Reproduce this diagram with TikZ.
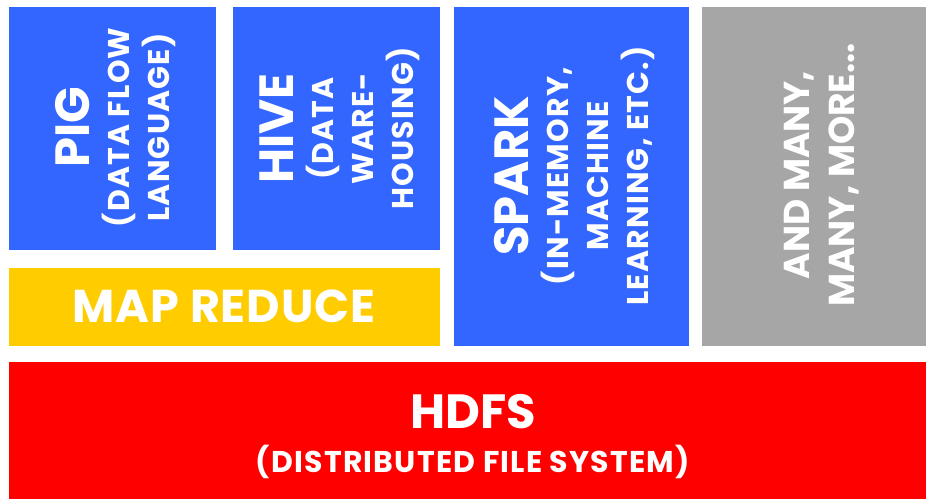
\documentclass[tikz,border=0pt]{standalone}
\usepackage{fontspec}
\setmainfont{Poppins}
\newfontfamily\spaced{Poppins}[LetterSpace=4]
\newfontfamily\mildspaced{Poppins}[LetterSpace=2]
\definecolor{hblue}{HTML}{3366FF}
\definecolor{hyellow}{HTML}{FFCC00}
\definecolor{hred}{HTML}{FF0000}
\definecolor{hgray}{HTML}{A6A6A6}
\newcommand{\headword}[1]{{\normalfont\bfseries\fontsize{48}{48}\selectfont #1}}
\begin{document}
\begin{tikzpicture}[x=1pt,y=-1pt,
  layer/.style={draw=none, inner sep=0pt, outer sep=0pt},
  label/.style={text=white, inner sep=0pt, align=center, font=\spaced\bfseries\fontsize{30}{40}\selectfont},
  vlabel/.style={label, rotate=90}]
\useasboundingbox (0,0) rectangle (926,499);
% stack of layers, filled rectangles
\path[fill=hblue]   (9,7)   rectangle (216,250) node[layer, midway] (pig) {};
\path[fill=hblue]   (233,7) rectangle (440,250) node[layer, midway] (hive) {};
\path[fill=hyellow] (9,268) rectangle (440,346) node[layer, midway] (mapred) {};
\path[fill=hblue]   (454,7) rectangle (689,346) node[layer, midway] (spark) {};
\path[fill=hgray]   (702,7) rectangle (926,346) node[layer, midway] (more) {};
\path[fill=hred]    (9,362) rectangle (926,499) node[layer, midway] (hdfs) {};
% labels
\node[vlabel] (pigtext) at (116,127.5) {\headword{PIG}\\(DATA FLOW\\LANGUAGE)};
\node[vlabel] (hivetext) at (340,128.5) {\headword{HIVE}\\(DATA\\WARE-\\HOUSING)};
\node[vlabel] (sparktext) at (575,176) {\headword{SPARK}\\(IN-MEMORY,\\MACHINE\\LEARNING, ETC.)};
\node[vlabel, font=\normalfont\bfseries\fontsize{36}{45}\selectfont] (moretext) at (821.5,175) {AND MANY,\\MANY, MORE...};
\node[label, font=\mildspaced\bfseries\fontsize{46}{46}\selectfont] (mrtext) at (224,306.5) {MAP REDUCE};
\node[label, font=\spaced\bfseries\fontsize{30}{44}\selectfont] (hdfstext) at (473,436.5) {\headword{HDFS}\\(DISTRIBUTED FILE SYSTEM)};
\end{tikzpicture}
\end{document}
